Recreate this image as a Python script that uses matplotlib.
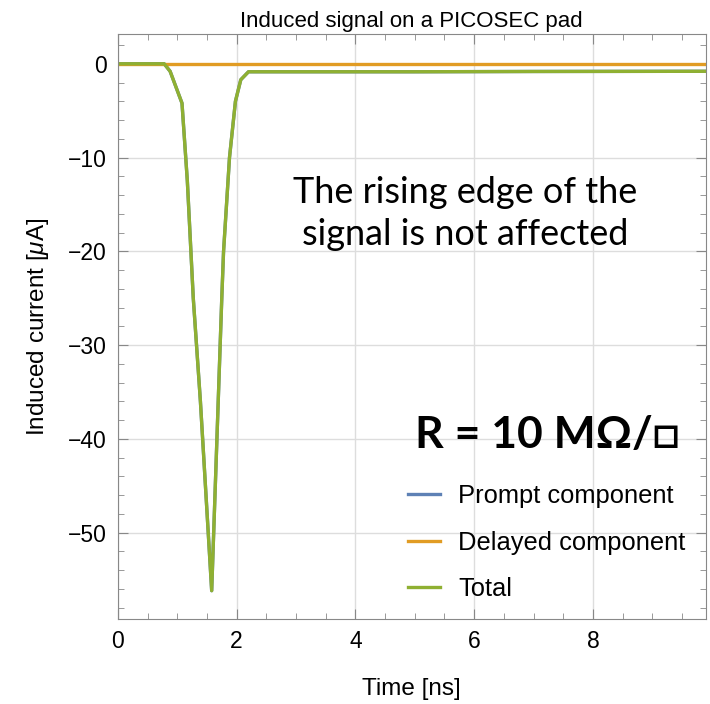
import numpy as np
import matplotlib
matplotlib.use("Agg")
import matplotlib.pyplot as plt
from matplotlib.ticker import MultipleLocator

# tiempo en ns, corriente en uA
t_total = [0.0, 0.5, 0.78, 0.88, 1.08, 1.17, 1.27, 1.39, 1.58, 1.69, 1.75, 1.78,
           1.88, 1.98, 2.07, 2.2, 3.0, 5.0, 7.0, 9.9]
i_total = [0.0, 0.0, 0.0, -0.8, -4.2, -12.5, -25.0, -36.0, -56.2, -36.0, -25.0, -20.0,
           -10.0, -4.0, -1.7, -0.85, -0.85, -0.85, -0.82, -0.8]
i_prompt = i_total  # o componente prompt coincide com o total
t_delayed = [0.0, 9.9]
i_delayed = [0.0, 0.0]

plt.rcParams['font.family'] = ['Liberation Sans', 'DejaVu Sans']
plt.rcParams['mathtext.fontset'] = 'custom'
plt.rcParams['mathtext.it'] = 'Liberation Sans:italic'
plt.rcParams['mathtext.rm'] = 'Liberation Sans'

fig = plt.figure(figsize=(7.1, 7.04), dpi=100)
ax = fig.add_axes([0.166, 0.121, 0.828, 0.831])

ax.plot(t_total, i_prompt, color='#5E81B5', lw=2.4, label='Prompt component')
ax.plot(t_delayed, i_delayed, color='#E19C24', lw=2.4, label='Delayed component')
ax.plot(t_total, i_total, color='#8FB032', lw=2.4, label='Total')

ax.set_xlim(0, 9.9)
ax.set_ylim(-59.2, 3.2)
ax.xaxis.set_major_locator(MultipleLocator(2))
ax.xaxis.set_minor_locator(MultipleLocator(0.5))
ax.yaxis.set_major_locator(MultipleLocator(10))
ax.yaxis.set_minor_locator(MultipleLocator(2))
ax.tick_params(which='both', direction='in', top=True, right=True, color='#888888',
               labelsize=16.5, pad=8)
ax.tick_params(which='major', length=7)
ax.tick_params(which='minor', length=4)
ax.set_yticks(range(-50, 1, 10))
ax.set_yticklabels(['\u221250', '\u221240', '\u221230', '\u221220', '\u221210', '0'])
for s in ax.spines.values():
    s.set_color('#888888')
ax.grid(True, which='major', color='#dddddd', lw=1)

ax.set_xlabel('Time [ns]', fontsize=17.5, labelpad=18)
ax.set_ylabel('Induced current [$\\mu$A]', fontsize=17.5, labelpad=12)
ax.set_title('Induced signal on a PICOSEC pad', fontsize=16, pad=5)

ax.text(0.59, 0.693, 'The rising edge of the\nsignal is not affected', transform=ax.transAxes,
        ha='center', va='center', fontsize=26, family=['Lato', 'DejaVu Sans'], linespacing=1.32)
ax.text(0.956, 0.315, 'R = 10 M\u03a9/\u25a1', transform=ax.transAxes, ha='right', va='center',
        fontsize=32, fontweight='bold', family=['Lato', 'DejaVu Sans'])

ax.legend(loc='center left', bbox_to_anchor=(0.455, 0.13), frameon=False, fontsize=18.4,
          handlelength=1.25, handletextpad=0.7, labelspacing=0.88)

fig.savefig('out.png', dpi=100)
